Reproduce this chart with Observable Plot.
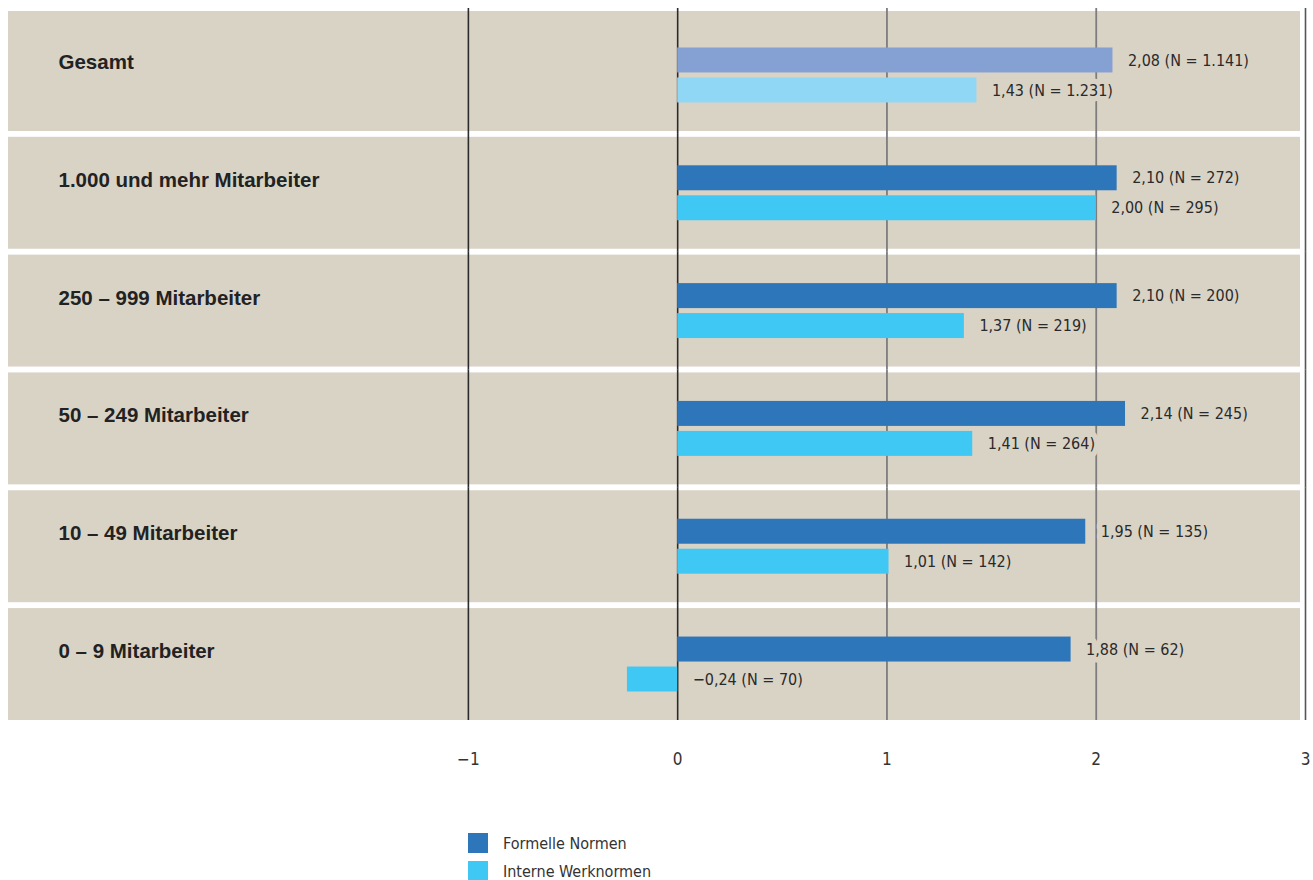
<!DOCTYPE html>
<html>
<head>
<meta charset="utf-8">
<script src="https://cdn.jsdelivr.net/npm/d3@7"></script>
<script src="https://cdn.jsdelivr.net/npm/@observablehq/plot@0.6"></script>
<style>
  body { margin: 0; background: #fff; }
  #chart { width: 1313px; }
  #chart svg g[aria-label="x-axis tick label"] { font-size: 17px; fill: #333; }
  .legend { margin-top: 39px; margin-left: 468px; font-family: "DejaVu Sans Condensed", "Liberation Sans Narrow", sans-serif; font-size: 16px; color: #333; }
  .legend .item { display: flex; align-items: center; height: 28px; }
  .legend .sw { width: 20px; height: 20px; margin-right: 15px; }
</style>
</head>
<body>
<div id="chart"></div>
<script>
// ---- data ----
const categories = [
  "Gesamt",
  "1.000 und mehr Mitarbeiter",
  "250 – 999 Mitarbeiter",
  "50 – 249 Mitarbeiter",
  "10 – 49 Mitarbeiter",
  "0 – 9 Mitarbeiter"
];
const seriesNames = ["Formelle Normen", "Interne Werknormen"];
const formelleValues = [2.08, 2.10, 2.10, 2.14, 1.95, 1.88];
const formelleN = [1141, 272, 200, 245, 135, 62];
const interneValues = [1.43, 2.00, 1.37, 1.41, 1.01, -0.24];
const interneN = [1231, 295, 219, 264, 142, 70];
const xTicks = [-1, 0, 1, 2, 3];

// ---- styles ----
const panelColor = "#d9d3c6";
const colorKeys = ["Gesamt|Formelle Normen", "Gesamt|Interne Werknormen", "Formelle Normen", "Interne Werknormen"];
const colorRange = ["#85a0d3", "#90d6f5", "#2e76ba", "#40c8f4"];
const condensed = "'DejaVu Sans Condensed', 'Liberation Sans Narrow', sans-serif";

const de = d3.formatLocale({decimal: ",", thousands: ".", grouping: [3], currency: ["", " €"], minus: "\u2212"});
const fmtV = de.format(",.2f");
const fmtN = de.format(",d");

const rows = [];
categories.forEach((cat, i) => {
  rows.push({cat, series: seriesNames[0], value: formelleValues[i], n: formelleN[i]});
  rows.push({cat, series: seriesNames[1], value: interneValues[i], n: interneN[i]});
});
rows.forEach(d => {
  d.key = d.cat === "Gesamt" ? "Gesamt|" + d.series : d.series;
  d.label = `${fmtV(d.value)} (N = ${fmtN(d.n)})`;
});

// rules: one set per facet so they join across the white gaps
function ruleData(cats, ticks) {
  return cats.flatMap(cat => ticks.map(t => ({cat, t})));
}
const firstCat = [categories[0]];
const midCats = categories.slice(1, -1);
const lastCat = [categories[categories.length - 1]];
function rules(ticks, stroke, strokeWidth) {
  return [
    Plot.ruleX(ruleData(firstCat, ticks), {fy: "cat", x: "t", stroke, strokeWidth, insetTop: -11, insetBottom: -3}),
    Plot.ruleX(ruleData(midCats, ticks), {fy: "cat", x: "t", stroke, strokeWidth, insetTop: -3, insetBottom: -3}),
    Plot.ruleX(ruleData(lastCat, ticks), {fy: "cat", x: "t", stroke, strokeWidth, insetTop: -3, insetBottom: 0})
  ];
}

const chart = Plot.plot({
  width: 1313,
  height: 790,
  marginTop: 19,
  marginBottom: 70,
  marginLeft: 8,
  marginRight: 8,
  style: {background: "#fff", fontFamily: condensed},
  x: {
    domain: [-1 - 460 / 209.33, 3],
    ticks: xTicks,
    tickSize: 0,
    tickPadding: 32,
    label: null,
    tickFormat: d => de.format("d")(d)
  },
  y: {domain: seriesNames, paddingInner: 0.1667, paddingOuter: 0.95, round: false, axis: null},
  fy: {domain: categories, paddingInner: 0.05, paddingOuter: 0, round: false, axis: null},
  color: {domain: colorKeys, range: colorRange},
  marks: [
    Plot.rect(categories, {fy: d => d, fill: panelColor, insetRight: 5}),
    Plot.rect(firstCat, {fy: d => d, fill: panelColor, insetRight: 5, insetTop: -8}),
    ...rules([-1, 0], "#2b2b2b", 1.6),
    ...rules([1, 2], "#7d7d7d", 1.8),
    ...rules([3], "#555", 1.6),
    Plot.barX(rows, {fy: "cat", y: "series", x: "value", fill: "key"}),
    Plot.text(rows, {
      fy: "cat", y: "series", x: d => Math.max(0, d.value), text: "label",
      dx: 15, textAnchor: "start", fontSize: 16, fill: "#2a2a2a",
      stroke: panelColor, strokeWidth: 11, fontFamily: condensed
    }),
    Plot.text(categories, {
      fy: d => d, y: () => seriesNames[0], text: d => d,
      frameAnchor: "left", dx: 50, dy: 2, textAnchor: "start",
      fontSize: 20.5, fontWeight: "bold", fill: "#222",
      fontFamily: "'Liberation Sans', Arial, sans-serif"
    })
  ]
});
document.getElementById("chart").appendChild(chart);

// legend
const legend = document.createElement("div");
legend.className = "legend";
seriesNames.forEach((name, i) => {
  const item = document.createElement("div");
  item.className = "item";
  const sw = document.createElement("div");
  sw.className = "sw";
  sw.style.background = colorRange[2 + i];
  const label = document.createElement("span");
  label.textContent = name;
  item.appendChild(sw);
  item.appendChild(label);
  legend.appendChild(item);
});
document.getElementById("chart").appendChild(legend);
</script>
</body>
</html>
